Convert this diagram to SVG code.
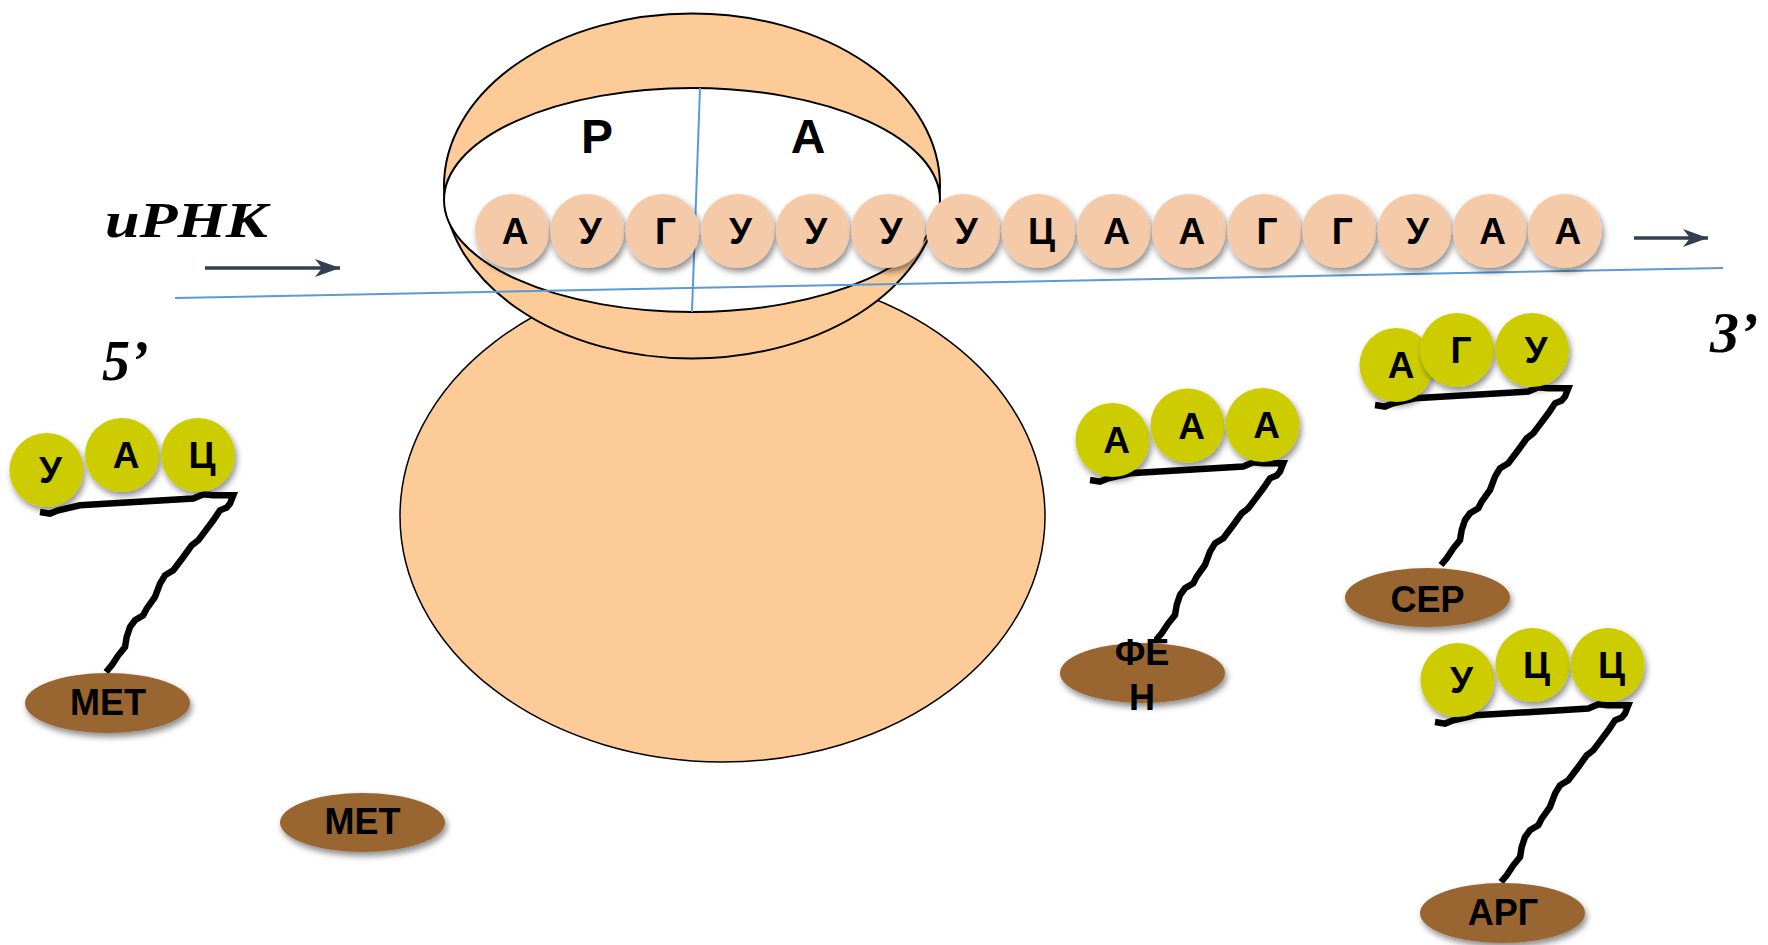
<svg xmlns="http://www.w3.org/2000/svg" width="1768" height="945" viewBox="0 0 1768 945">
  <style>
    .base { fill: #F5CAA8; filter: url(#shadow); }
    .anti { fill: #CCCC00; filter: url(#shadow); }
    .amino { fill: #996633; filter: url(#shadow); }
    .let { font-family: "Liberation Sans", Arial, sans-serif; font-weight: bold; font-size: 37px; fill: #000; text-anchor: middle; }
    .aa { font-family: "Liberation Sans", Arial, sans-serif; font-weight: bold; font-size: 36px; fill: #000; text-anchor: middle; }
    .site { font-family: "Liberation Sans", Arial, sans-serif; font-weight: bold; font-size: 48px; fill: #000; text-anchor: middle; }
    .end { font-family: "Liberation Serif", "Times New Roman", serif; font-weight: bold; font-style: italic; fill: #000; }
    .stem { fill: none; stroke: #000; stroke-width: 6.5; stroke-linejoin: miter; stroke-miterlimit: 4; }
    .guide { stroke: #5B9BD5; stroke-width: 2; fill: none; }
    .dir { stroke: #333F50; stroke-width: 3.5; fill: none; marker-end: url(#head); }
  </style>
  <defs>
    <filter id="shadow" x="-30%" y="-30%" width="160%" height="170%">
      <feDropShadow dx="2" dy="4" stdDeviation="3" flood-color="#000" flood-opacity="0.45"/>
    </filter>
    <marker id="head" markerUnits="userSpaceOnUse" markerWidth="30" markerHeight="24" refX="25" refY="10" orient="auto">
      <path d="M0,1 L25,10 L0,19 L7,10 Z" fill="#333F50"/>
    </marker>
  </defs>

  <rect width="1768" height="945" fill="#fff"/>

  <!-- ribosome: large subunit, small subunit ring with P and A sites -->
  <g id="ribosome">
    <ellipse cx="722.5" cy="516" rx="322.5" ry="246" fill="#FDCB98" stroke="#000" stroke-width="1.5"/>
    <ellipse cx="692" cy="186" rx="248" ry="172.5" fill="#FDCB98" stroke="#000" stroke-width="2"/>
    <ellipse cx="692" cy="200" rx="248" ry="112" fill="#fff" stroke="#000" stroke-width="2"/>
    <text class="site" x="597" y="153">Р</text>
    <text class="site" x="808" y="153">А</text>
  </g>

  <!-- site divider and mRNA axis, direction arrows -->
  <g id="connectors">
    <line class="guide" x1="700" y1="88" x2="692" y2="312"/>
    <line class="guide" x1="175" y1="298" x2="1723" y2="268"/>
    <line class="dir" x1="205" y1="268" x2="340" y2="268"/>
    <line class="dir" x1="1634" y1="238" x2="1708" y2="238"/>
  </g>

  <!-- mRNA codons -->
  <g id="mrna">
    <g id="m1"><circle class="base" cx="512" cy="231" r="37"/><text class="let" x="515" y="244">А</text></g>
    <g id="m2"><circle class="base" cx="587.2" cy="231" r="37"/><text class="let" x="590.2" y="244">У</text></g>
    <g id="m3"><circle class="base" cx="662.4" cy="231" r="37"/><text class="let" x="665.4" y="244">Г</text></g>
    <g id="m4"><circle class="base" cx="737.6" cy="231" r="37"/><text class="let" x="740.6" y="244">У</text></g>
    <g id="m5"><circle class="base" cx="812.8" cy="231" r="37"/><text class="let" x="815.8" y="244">У</text></g>
    <g id="m6"><circle class="base" cx="888" cy="231" r="37"/><text class="let" x="891" y="244">У</text></g>
    <g id="m7"><circle class="base" cx="963.2" cy="231" r="37"/><text class="let" x="966.2" y="244">У</text></g>
    <g id="m8"><circle class="base" cx="1038.4" cy="231" r="37"/><text class="let" x="1041.4" y="244">Ц</text></g>
    <g id="m9"><circle class="base" cx="1113.6" cy="231" r="37"/><text class="let" x="1116.6" y="244">А</text></g>
    <g id="m10"><circle class="base" cx="1188.8" cy="231" r="37"/><text class="let" x="1191.8" y="244">А</text></g>
    <g id="m11"><circle class="base" cx="1264" cy="231" r="37"/><text class="let" x="1267" y="244">Г</text></g>
    <g id="m12"><circle class="base" cx="1339.2" cy="231" r="37"/><text class="let" x="1342.2" y="244">Г</text></g>
    <g id="m13"><circle class="base" cx="1414.4" cy="231" r="37"/><text class="let" x="1417.4" y="244">У</text></g>
    <g id="m14"><circle class="base" cx="1489.6" cy="231" r="37"/><text class="let" x="1492.6" y="244">А</text></g>
    <g id="m15"><circle class="base" cx="1564.8" cy="231" r="37"/><text class="let" x="1567.8" y="244">А</text></g>
  </g>

  <!-- labels -->
  <g id="labels">
    <text class="end" x="105" y="237" font-size="50" textLength="163" lengthAdjust="spacingAndGlyphs">иРНК</text>
    <text class="end" x="102" y="380" font-size="56">5’</text>
    <text class="end" x="1710" y="352" font-size="58">3’</text>
  </g>

  <!-- tRNA with methionine -->
  <g id="trna-met">
    <path class="stem" transform="translate(40,512)" d="M0,0 L10,1.6 L18.3,-1.7 L40,-6.7 L153.3,-13.4 L163.3,-17.7 L173.3,-16.7 L193.3,-16.7 L190,-8.4 L186.7,-4.4 L180,-1.7 L173.3,8.3 L163.3,21.6 L158.3,28.3 L151.7,33.3 L143.3,45 L133.3,58.3 L125,63.3 L120,71.6 L115,85 L106.7,96.6 L103.3,103.3 L95,108.3 L90,115 L86.7,125 L85,135 L78.3,143.3 L71.7,153.3 L66,160"/>
    <circle class="anti" cx="46.5" cy="470" r="37"/><text class="let" x="50.5" y="483">У</text>
    <circle class="anti" cx="122" cy="455" r="37"/><text class="let" x="126" y="468">А</text>
    <circle class="anti" cx="198" cy="455" r="37"/><text class="let" x="202" y="468">Ц</text>
    <ellipse class="amino" cx="107.5" cy="703" rx="82.5" ry="30"/>
    <text class="aa" x="108" y="715">МЕТ</text>
  </g>

  <!-- free methionine -->
  <g id="met-free">
    <ellipse class="amino" cx="362.5" cy="822.5" rx="82.5" ry="29.5"/>
    <text class="aa" x="362.5" y="834">МЕТ</text>
  </g>

  <!-- tRNA with phenylalanine -->
  <g id="trna-phe">
    <path class="stem" transform="translate(1090,480)" d="M0,0 L10,1.6 L18.3,-1.7 L40,-6.7 L153.3,-13.4 L163.3,-17.7 L173.3,-16.7 L193.3,-16.7 L190,-8.4 L186.7,-4.4 L180,-1.7 L173.3,8.3 L163.3,21.6 L158.3,28.3 L151.7,33.3 L143.3,45 L133.3,58.3 L125,63.3 L120,71.6 L115,85 L106.7,96.6 L103.3,103.3 L95,108.3 L90,115 L86.7,125 L85,135 L78.3,143.3 L71.7,153.3 L66,160"/>
    <circle class="anti" cx="1112.5" cy="440" r="37"/><text class="let" x="1116.5" y="453">А</text>
    <circle class="anti" cx="1187.5" cy="425.5" r="37"/><text class="let" x="1191.5" y="438.5">А</text>
    <circle class="anti" cx="1262.5" cy="425" r="37"/><text class="let" x="1266.5" y="438">А</text>
    <ellipse class="amino" cx="1142.5" cy="673" rx="82.5" ry="30"/>
    <text class="aa" x="1142" y="665">ФЕ</text>
    <text class="aa" x="1142" y="710">Н</text>
  </g>

  <!-- tRNA with serine -->
  <g id="trna-ser">
    <path class="stem" transform="translate(1375,405)" d="M0,0 L10,1.6 L18.3,-1.7 L40,-6.7 L153.3,-13.4 L163.3,-17.7 L173.3,-16.7 L193.3,-16.7 L190,-8.4 L186.7,-4.4 L180,-1.7 L173.3,8.3 L163.3,21.6 L158.3,28.3 L151.7,33.3 L143.3,45 L133.3,58.3 L125,63.3 L120,71.6 L115,85 L106.7,96.6 L103.3,103.3 L95,108.3 L90,115 L86.7,125 L85,135 L78.3,143.3 L71.7,153.3 L66,160"/>
    <circle class="anti" cx="1396.5" cy="365" r="37"/><text class="let" x="1401" y="378">А</text>
    <circle class="anti" cx="1457" cy="350" r="37"/><text class="let" x="1461" y="363">Г</text>
    <circle class="anti" cx="1532" cy="350" r="37"/><text class="let" x="1536" y="363">У</text>
    <ellipse class="amino" cx="1427.5" cy="597.5" rx="82.5" ry="29.5"/>
    <text class="aa" x="1427.5" y="612">СЕР</text>
  </g>

  <!-- tRNA with arginine -->
  <g id="trna-arg">
    <path class="stem" transform="translate(1435,722)" d="M0,0 L10,1.6 L18.3,-1.7 L40,-6.7 L153.3,-13.4 L163.3,-17.7 L173.3,-16.7 L193.3,-16.7 L190,-8.4 L186.7,-4.4 L180,-1.7 L173.3,8.3 L163.3,21.6 L158.3,28.3 L151.7,33.3 L143.3,45 L133.3,58.3 L125,63.3 L120,71.6 L115,85 L106.7,96.6 L103.3,103.3 L95,108.3 L90,115 L86.7,125 L85,135 L78.3,143.3 L71.7,153.3 L66,160"/>
    <circle class="anti" cx="1457.5" cy="680" r="37"/><text class="let" x="1461.5" y="693">У</text>
    <circle class="anti" cx="1532.5" cy="665" r="37"/><text class="let" x="1536.5" y="678">Ц</text>
    <circle class="anti" cx="1607.5" cy="665" r="37"/><text class="let" x="1611.5" y="678">Ц</text>
    <ellipse class="amino" cx="1502.5" cy="913" rx="82.5" ry="30"/>
    <text class="aa" x="1503" y="925">АРГ</text>
  </g>
</svg>
